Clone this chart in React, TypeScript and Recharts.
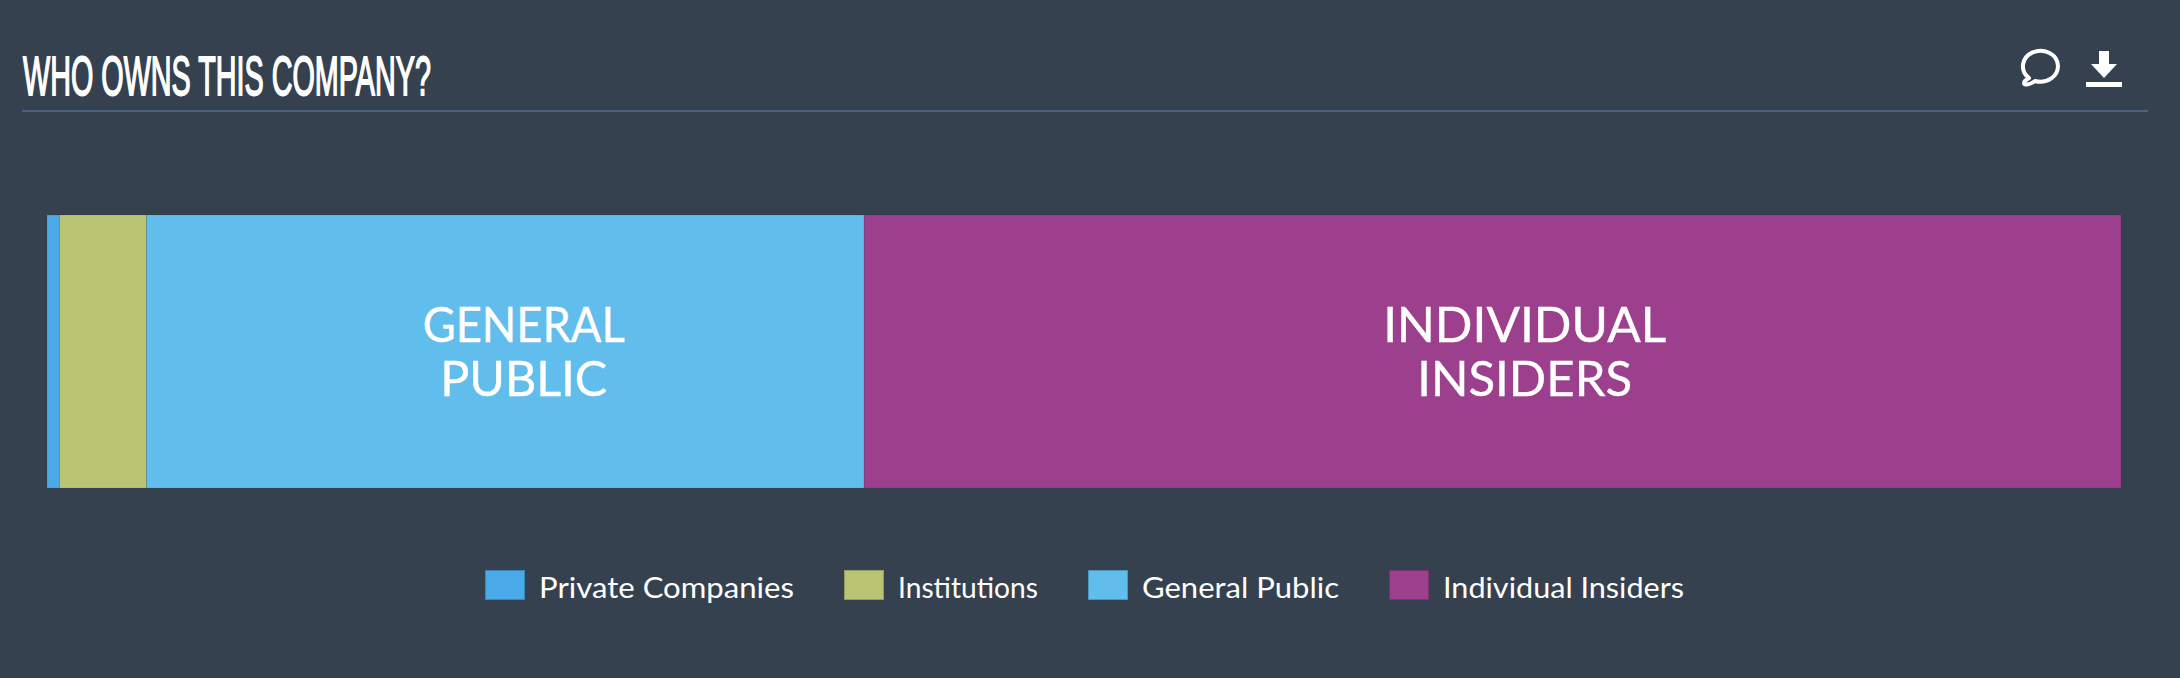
import React from 'react'
import { BarChart, Bar, XAxis, YAxis, Legend, LabelList } from 'recharts'

const categories = ['ownership']
const seriesNames = ['Private Companies', 'Institutions', 'General Public', 'Individual Insiders']
const seriesValues = [0.6, 4.2, 34.6, 60.6]
const seriesColors = ['#4aa9e8', '#bac574', '#60bdec', '#9c3f8c']
const generalPublicLines = ['GENERAL', 'PUBLIC']
const insiderLines = ['INDIVIDUAL', 'INSIDERS']

const data = categories.map(c => {
  const row: any = { name: c }
  seriesNames.forEach((s, i) => { row[s] = seriesValues[i] })
  return row
})

const sansFont = 'Lato, "Noto Sans", sans-serif'

// text widths measured on the picture, the original fonts are not installed
const lineWidths: Record<string, number> = { GENERAL: 202, PUBLIC: 167, INDIVIDUAL: 283, INSIDERS: 215 }
const legendWidths: Record<string, number> = { 'Private Companies': 255, Institutions: 140, 'General Public': 197, 'Individual Insiders': 241 }

function BarText({ x, y, width, height, lines }: any) {
  // the labels sit a little right of the segment centre
  const cx = x + width / 2 + width * 0.0255
  const cy = y + height / 2
  return (
    <g>
      {lines.map((line: string, i: number) => (
        <text key={line} x={cx} y={cy - 9.5 + i * 54} textAnchor="middle" fill="#fff" stroke="#fff" strokeWidth={0.4}
          fontFamily={sansFont} fontSize={49} textLength={lineWidths[line]} lengthAdjust="spacingAndGlyphs">
          {line}
        </text>
      ))}
    </g>
  )
}

function LegendRow({ payload }: any) {
  return (
    <div style={{ display: 'flex', justifyContent: 'center', gap: 50, height: 30 }}>
      {(payload || []).map((p: any) => (
        <div key={p.value} style={{ display: 'flex', height: 30 }}>
          <span style={{ width: 40, height: 30, background: p.color, boxSizing: 'border-box', border: '1px solid rgba(0,0,0,.2)', marginRight: 14 }} />
          <svg width={legendWidths[p.value]} height={40} style={{ overflow: 'visible' }}>
            <text x={0} y={28} fill="#fff" fontFamily={sansFont} fontSize={28} textLength={legendWidths[p.value]} lengthAdjust="spacingAndGlyphs">{p.value}</text>
          </svg>
        </div>
      ))}
    </div>
  )
}

export default function App() {
  return (
    <div style={{ position: 'absolute', left: 0, top: 0, width: 2180, height: 678, background: '#36414f', overflow: 'hidden' }}>
      <style>{'html,body{margin:0;overflow:hidden}'}</style>
      <BarChart width={2180} height={678} data={data} layout="vertical" barCategoryGap={0}
        margin={{ top: 215, right: 59, bottom: 160, left: 47 }}>
        <XAxis type="number" domain={[0, 100]} hide />
        <YAxis type="category" dataKey="name" hide />
        <Legend height={30} itemSorter={null} content={<LegendRow />} wrapperStyle={{ left: 0, width: 2168, bottom: 78 }} />
        {seriesNames.map((s, i) => (
          <Bar key={s} dataKey={s} stackId="a" fill={seriesColors[i]} stroke="rgba(0,0,0,.07)" strokeWidth={1} isAnimationActive={false}>
            {s === 'General Public' && <LabelList content={(p: any) => <BarText {...p} lines={generalPublicLines} />} />}
            {s === 'Individual Insiders' && <LabelList content={(p: any) => <BarText {...p} lines={insiderLines} />} />}
          </Bar>
        ))}
      </BarChart>
      <svg width={2180} height={678} style={{ position: 'absolute', left: 0, top: 0, pointerEvents: 'none' }}>
        <text x={23} y={95} fill="#fff" stroke="#fff" strokeWidth={1.8} fontFamily='"Liberation Sans", sans-serif'
          fontSize={55} textLength={408} lengthAdjust="spacingAndGlyphs">WHO OWNS THIS COMPANY?</text>
        <rect x={22} y={110} width={2126} height={2} fill="#4c6080" />
        <path d="M2029 78 A17.5 15.5 0 1 1 2035 81 Q2031 84 2027 84.5 Q2023 85 2024.5 81.5 Q2026.5 79.5 2029 78 Z"
          fill="none" stroke="#fff" strokeWidth={4} strokeLinejoin="round" />
        <path d="M2099 51 H2109 V64 H2117 L2104 78 L2091 64 H2099 Z" fill="#fff" />
        <rect x={2086} y={82} width={36} height={5} fill="#fff" />
      </svg>
    </div>
  )
}
